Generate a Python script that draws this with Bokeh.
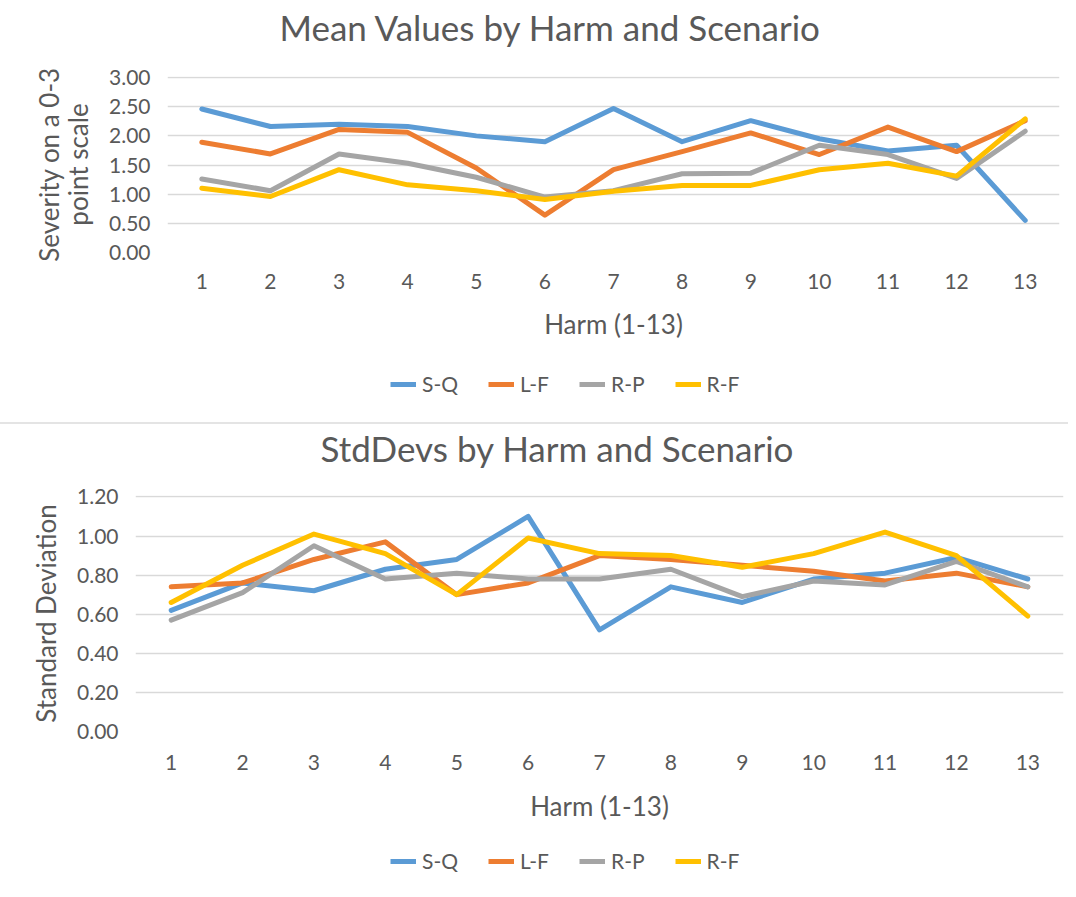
from bokeh.plotting import figure
from bokeh.models import (FactorRange, Range1d, FixedTicker, NumeralTickFormatter,
                          Legend, LegendItem, Title)
from bokeh.layouts import column
from bokeh.embed import file_html
from bokeh.resources import INLINE

harms = [str(i) for i in range(1, 14)]
series_names = ["S-Q", "L-F", "R-P", "R-F"]
colors = ["#5B9BD5", "#ED7D31", "#A5A5A5", "#FFC000"]

mean_sq = [2.46, 2.16, 2.20, 2.16, 2.00, 1.90, 2.47, 1.90, 2.26, 1.95, 1.74, 1.84, 0.55]
mean_lf = [1.89, 1.69, 2.11, 2.06, 1.45, 0.64, 1.42, 1.73, 2.05, 1.68, 2.15, 1.73, 2.26]
mean_rp = [1.26, 1.06, 1.69, 1.53, 1.29, 0.95, 1.06, 1.35, 1.36, 1.84, 1.68, 1.27, 2.08]
mean_rf = [1.10, 0.96, 1.42, 1.16, 1.06, 0.91, 1.05, 1.15, 1.15, 1.42, 1.53, 1.31, 2.29]

sd_sq = [0.62, 0.76, 0.72, 0.83, 0.88, 1.10, 0.52, 0.74, 0.66, 0.78, 0.81, 0.89, 0.78]
sd_lf = [0.74, 0.76, 0.88, 0.97, 0.70, 0.76, 0.90, 0.88, 0.85, 0.82, 0.77, 0.81, 0.74]
sd_rp = [0.57, 0.71, 0.95, 0.78, 0.81, 0.78, 0.78, 0.83, 0.69, 0.77, 0.75, 0.87, 0.74]
sd_rf = [0.66, 0.85, 1.01, 0.91, 0.70, 0.99, 0.91, 0.90, 0.84, 0.91, 1.02, 0.90, 0.59]

mean_ticks = [0, 0.5, 1.0, 1.5, 2.0, 2.5, 3.0]
sd_ticks = [0, 0.2, 0.4, 0.6, 0.8, 1.0, 1.2]

FONT = "Lato"
TXT = "#595959"
GRID = "#D9D9D9"
LW = 5


def no_align(p):
    if "frame_align" in p.properties():
        p.frame_align = False


def build(title, ylabel, ymax, ticks, data, fw, fh, left, right, top, bottom,
          title_offset, title_gap):
    pad = 0.006
    p = figure(x_range=FactorRange(factors=harms),
               y_range=Range1d(0, ymax * (1 + pad)),
               frame_width=fw, frame_height=fh,
               min_border_left=left, min_border_right=right,
               min_border_top=top, min_border_bottom=bottom,
               output_backend="svg", toolbar_location=None, title=None)
    no_align(p)
    # spacer next to the frame, then the real title further out
    spacer = Title(text="\u00a0", text_font_size="1px", standoff=title_gap)
    p.add_layout(spacer, "above")
    t = Title(text=title, text_font=FONT, text_font_size="35px",
              text_font_style="normal", text_color=TXT, align="left",
              vertical_align="bottom", offset=title_offset, standoff=0)
    p.add_layout(t, "above")
    p.outline_line_color = None
    p.background_fill_color = "white"
    p.border_fill_color = "white"

    p.xgrid.grid_line_color = None
    p.ygrid.grid_line_color = GRID
    p.ygrid.grid_line_width = 1.5
    p.yaxis.ticker = FixedTicker(ticks=ticks)
    p.yaxis.formatter = NumeralTickFormatter(format="0.00")
    for ax in (p.xaxis[0], p.yaxis[0]):
        ax.axis_line_color = None
        ax.major_tick_line_color = None
        ax.minor_tick_line_color = None
        ax.major_tick_out = 0
        ax.major_tick_in = 0
        ax.major_label_text_font = FONT
        ax.major_label_text_font_size = "21px"
        ax.major_label_text_color = TXT
        ax.axis_label_text_font = FONT
        ax.axis_label_text_font_size = "26px"
        ax.axis_label_text_font_style = "normal"
        ax.axis_label_text_color = TXT
    p.xaxis.major_label_standoff = 21
    p.xaxis.axis_label = "Harm (1-13)"
    p.xaxis.axis_label_standoff = 16
    p.yaxis.major_label_standoff = 17
    p.yaxis.axis_label = ylabel
    p.yaxis.axis_label_standoff = 12
    p.yaxis.axis_label_text_line_height = 0.9

    for vals, c in zip(data, colors):
        p.line(x=harms, y=vals, line_color=c, line_width=LW,
               line_join="round", line_cap="round")
    return p


def legend_strip(h, lx, ly):
    # a strip below the chart that only carries the series key
    q = figure(x_range=FactorRange(factors=harms), y_range=Range1d(0, 1),
               width=1068, height=h, min_border=0,
               x_axis_location=None, y_axis_location=None,
               output_backend="svg", toolbar_location=None)
    no_align(q)
    q.outline_line_color = None
    q.xgrid.grid_line_color = None
    q.ygrid.grid_line_color = None
    items = []
    for name, c in zip(series_names, colors):
        r = q.line(x=harms[:2], y=[5, 5], line_color=c, line_width=LW)
        items.append(LegendItem(label=name, renderers=[r]))
    leg = Legend(items=items, orientation="horizontal", location=(lx, ly),
                 border_line_color=None, background_fill_alpha=0,
                 label_text_font=FONT, label_text_font_size="21px",
                 label_text_color=TXT, glyph_width=26, glyph_height=20,
                 label_standoff=6, spacing=30, padding=0, margin=0)
    q.add_layout(leg, "center")
    return q


p1 = build("Mean Values by Harm and Scenario", "Severity on a 0-3\npoint scale",
           3.0, mean_ticks, [mean_sq, mean_lf, mean_rp, mean_rf],
           892, 176, 167, 9, 76, 98, 112, 26)
l1 = legend_strip(72, 390, 26)
p2 = build("StdDevs by Harm and Scenario", "Standard Deviation",
           1.2, sd_ticks, [sd_sq, sd_lf, sd_rp, sd_rf],
           928, 234, 135, 5, 69, 100, 185, 24)
p2.xaxis.major_label_standoff = 23
p2.xaxis.axis_label_standoff = 17
p2.styles = {"border-top": "2px solid #E4E4E4"}
l2 = legend_strip(59, 390, 15)

layout = column(p1, l1, p2, l2, spacing=0)
open("out.html", "w").write(file_html(layout, INLINE))
